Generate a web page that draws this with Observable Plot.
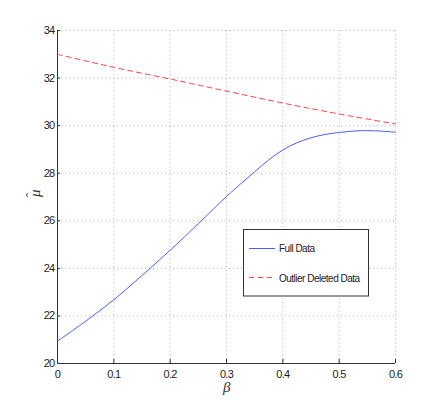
<!DOCTYPE html>
<html>
<head>
<meta charset="utf-8">
<script src="https://cdn.jsdelivr.net/npm/d3@7"></script>
<script src="https://cdn.jsdelivr.net/npm/@observablehq/plot@0.6"></script>
<style>
  html, body { margin: 0; padding: 0; background: #fff; }
  svg text { letter-spacing: -0.7px; }
</style>
</head>
<body>
<div id="chart"></div>
<script>
const betaFull = [0, 0.05, 0.1, 0.15, 0.2, 0.25, 0.3, 0.325, 0.35, 0.375, 0.4, 0.425, 0.45, 0.475, 0.5, 0.525, 0.55, 0.575, 0.6];
const muFull   = [20.94, 21.78, 22.68, 23.7, 24.76, 25.88, 27.02, 27.55, 28.06, 28.56, 28.98, 29.28, 29.49, 29.63, 29.71, 29.77, 29.79, 29.77, 29.72];
const betaOut  = [0, 0.1, 0.2, 0.3, 0.4, 0.5, 0.6];
const muOut    = [33.0, 32.45, 31.96, 31.45, 30.95, 30.49, 30.07];
const xTicks = [0, 0.1, 0.2, 0.3, 0.4, 0.5, 0.6];
const xTickLabels = ["0", "0.1", "0.2", "0.3", "0.4", "0.5", "0.6"];
const yTicks = [20, 22, 24, 26, 28, 30, 32, 34];
const seriesNames = ["Full Data", "Outlier Deleted Data"];
const seriesColors = ["#4a5cff", "#ff4040"];

const full = betaFull.map((b, i) => ({beta: b, mu: muFull[i]}));
const outl = betaOut.map((b, i) => ({beta: b, mu: muOut[i]}));

const axisColor = "#333";
const serif = "'Liberation Serif', 'Times New Roman', serif";
const plot = Plot.plot({
  width: 436,
  height: 409,
  marginLeft: 57,
  marginRight: 41,
  marginTop: 30,
  marginBottom: 46,
  style: {fontFamily: "'Liberation Sans', Arial, sans-serif", fontSize: "11px", color: "#222", background: "#fff"},
  x: {domain: [0, 0.6]},
  y: {domain: [20, 34]},
  marks: [
    Plot.gridX(xTicks, {stroke: "#b8b8b8", strokeOpacity: 1, strokeDasharray: "1.2,2.8"}),
    Plot.gridY(yTicks, {stroke: "#b8b8b8", strokeOpacity: 1, strokeDasharray: "1.2,2.8"}),
    Plot.ruleY([20], {stroke: axisColor}),
    Plot.ruleX([0], {stroke: axisColor}),
    Plot.tickX(xTicks, {x: d => d, insetTop: 329, stroke: axisColor}),
    Plot.tickY(yTicks, {y: d => d, insetRight: 335, stroke: axisColor}),
    Plot.axisX({ticks: xTicks, tickSize: 0, tickPadding: 7, tickFormat: (d, i) => xTickLabels[i], fontSize: 11, label: null}),
    Plot.axisY({ticks: yTicks, tickSize: 0, tickPadding: 3, fontSize: 11, label: null}),
    Plot.line(full, {x: "beta", y: "mu", stroke: seriesColors[0], strokeWidth: 1, curve: "catmull-rom"}),
    Plot.line(outl, {x: "beta", y: "mu", stroke: seriesColors[1], strokeWidth: 1, strokeDasharray: "5,4", curve: "catmull-rom"}),
    Plot.text(["β"], {frameAnchor: "bottom", dy: 24, text: d => d, fontSize: 15, fontStyle: "italic", fontFamily: serif, fill: "#333", lineAnchor: "middle"}),
    Plot.text(["μ"], {frameAnchor: "left", dx: -22, rotate: -90, text: d => d, fontSize: 15, fontStyle: "italic", fontFamily: serif, fill: "#333", lineAnchor: "middle"}),
    Plot.text(["ˆ"], {frameAnchor: "left", dx: -27, dy: 0, rotate: -90, text: d => d, fontSize: 13, fontFamily: serif, fill: "#333", lineAnchor: "middle"})
  ]
});
document.getElementById("chart").appendChild(plot);

// legend box
const svg = d3.select(plot);
const lg = svg.append("g").attr("font-family", "'Liberation Sans', Arial, sans-serif").attr("font-size", 10).attr("text-anchor", "start");
lg.append("rect").attr("x", 243.5).attr("y", 229.5).attr("width", 125).attr("height", 66.5)
  .attr("fill", "#fff").attr("stroke", axisColor).attr("stroke-width", 1);
const rows = [{y: 248.5, base: 252.3}, {y: 277.5, base: 281.5}];
seriesNames.forEach((name, i) => {
  lg.append("line").attr("x1", 249).attr("x2", 275).attr("y1", rows[i].y).attr("y2", rows[i].y)
    .attr("stroke", seriesColors[i]).attr("stroke-width", 1)
    .attr("stroke-dasharray", i === 1 ? "5,4" : null);
  lg.append("text").attr("x", 279).attr("y", rows[i].base).attr("fill", "#222")
    .attr("text-anchor", "start")
    .style("letter-spacing", "-0.5px").text(name);
});
</script>
</body>
</html>
